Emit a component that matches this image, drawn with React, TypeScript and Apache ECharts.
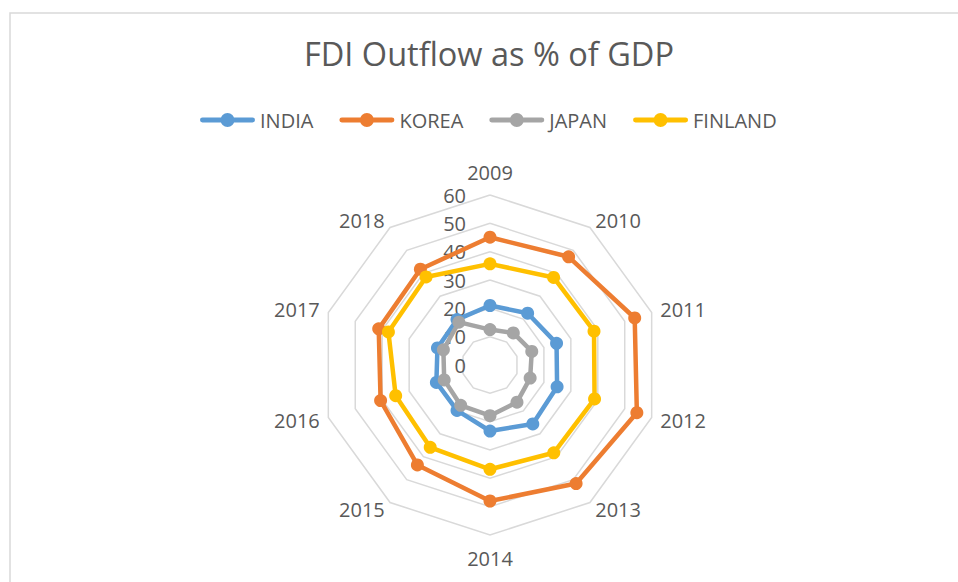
import React, { useEffect, useRef } from "react";
import * as echarts from "echarts";

const years = ["2009", "2010", "2011", "2012", "2013", "2014", "2015", "2016", "2017", "2018"];
const india = [21, 22.6, 24.7, 24.9, 25.7, 23.3, 19.8, 19.9, 19.5, 19.8];
const korea = [45.1, 47.2, 53.7, 54.5, 51.7, 48, 43.6, 40.6, 41.3, 41.8];
const japan = [12.5, 14, 15.5, 14.9, 16.2, 17.9, 17.6, 17, 17.3, 18.7];
const finland = [35.7, 38.2, 38.6, 38.8, 38.3, 36.8, 35.9, 35, 37.7, 38.4];
const seriesNames = ["INDIA", "KOREA", "JAPAN", "FINLAND"];
const colors = ["#5B9BD5", "#ED7D31", "#A5A5A5", "#FFC000"];
const axisMax = 60;

const FONT = "'Open Sans', sans-serif";
const TEXT = "#595959";

// ECharts lays indicators out counter-clockwise; reorder so years run clockwise.
const order = years.map((_, i) => (i === 0 ? 0 : years.length - i));

const legendIcon =
  "path://M2.25,4.5 H52.75 A2.5,2.5 0 0 1 52.75,9.5 H2.25 A2.5,2.5 0 0 1 2.25,4.5 Z " +
  "M20.5,7 A7,7 0 1 1 34.5,7 A7,7 0 1 1 20.5,7 Z";

export default function App() {
  const ref = useRef<HTMLDivElement>(null);
  useEffect(() => {
    if (!ref.current) return;
    const chart = echarts.init(ref.current, null, { renderer: "svg" });
    const values = [india, korea, japan, finland];
    chart.setOption({
      animation: false,
      backgroundColor: "#fff",
      title: {
        text: "FDI Outflow as % of GDP",
        left: 299,
        top: 32,
        textStyle: { fontFamily: FONT, fontSize: 32.5, fontWeight: "normal", color: TEXT },
      },
      legend: {
        left: 195,
        top: 105,
        itemWidth: 55,
        itemHeight: 14,
        itemGap: 26,
        icon: legendIcon,
        textStyle: { fontFamily: FONT, fontSize: 20, color: TEXT },
        data: seriesNames,
      },
      radar: {
        center: [490, 365],
        radius: 170,
        startAngle: 90,
        splitNumber: 6,
        shape: "polygon",
        axisName: { fontFamily: FONT, fontSize: 20, color: TEXT, padding: [4, 0, 4, 0] },
        nameGap: 9,
        axisLine: { show: false },
        axisTick: { show: false },
        splitArea: { show: false },
        splitLine: { lineStyle: { color: "#D9D9D9", width: 1.5 } },
        axisLabel: { show: false, fontFamily: FONT, fontSize: 20, color: TEXT, margin: 24 },
        indicator: order.map((k, i) => ({
          name: years[k],
          min: 0,
          max: axisMax,
          ...(i === 0 ? { axisLabel: { show: true } } : {}),
        })),
      },
      series: [
        {
          type: "radar",
          data: seriesNames.map((n, i) => ({
            name: n,
            value: order.map((k) => values[i][k]),
            symbol: "circle",
            symbolSize: 13,
            lineStyle: { color: colors[i], width: 4.5 },
            itemStyle: { color: colors[i] },
          })),
        },
      ],
      graphic: [
        {
          type: "polyline",
          shape: { points: [[10, 582], [10, 13], [958, 13]] },
          style: { stroke: "#D9D9D9", lineWidth: 1.5, fill: "none" },
          silent: true,
        },
      ],
    });
    return () => chart.dispose();
  }, []);
  return (
    <div
      ref={ref}
      style={{ position: "fixed", left: 0, top: 0, width: 958, height: 582 }}
    />
  );
}
